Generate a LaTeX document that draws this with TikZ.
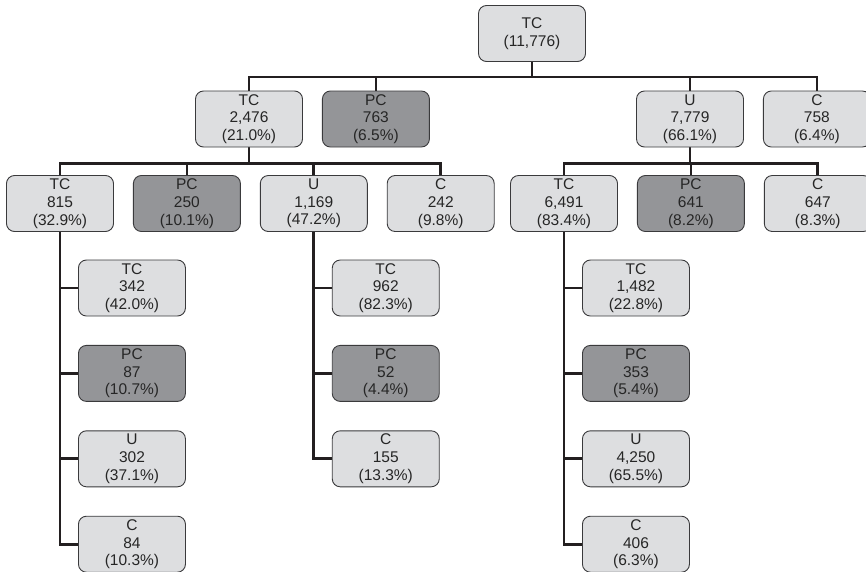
\documentclass[tikz,border=0pt]{standalone}
\usepackage{fontspec}
\setmainfont{Liberation Sans}
\usepackage{tikz}
\usetikzlibrary{positioning,backgrounds}
\definecolor{boxlight}{HTML}{DDDEE0}
\definecolor{boxdark}{HTML}{949598}
\definecolor{boxline}{HTML}{3A3A3C}
\definecolor{inkline}{HTML}{231F20}
\tikzset{
  cat/.style={draw=boxline,line width=0.9pt,rounded corners=8pt,minimum width=107pt,
    minimum height=56pt,inner sep=1pt,align=center,text=black!85,
    font=\fontsize{15.5}{17.7}\selectfont},
  light/.style={cat,fill=boxlight},
  dark/.style={cat,fill=boxdark},
  link/.style={draw=inkline,line width=2.8pt}
}
\begin{document}
\begin{tikzpicture}
      \useasboundingbox (0,0) rectangle (866pt,-571pt);
      % root
      \node[light] (root) at (532pt,-33.5pt) {TC\\(11,776)};
      % second row
      \node[light] (tc) at (249pt,-119pt) {TC\\2,476\\(21.0\%)};
      \node[dark,right=19pt of tc] (pc) {PC\\763\\(6.5\%)};
      \node[light] (u) at (690pt,-119pt) {U\\7,779\\(66.1\%)};
      \node[light,right=19pt of u] (c) {C\\758\\(6.4\%)};
      % third row
      \node[light] (tctc) at (60pt,-203.5pt) {TC\\815\\(32.9\%)};
      \node[dark,right=19pt of tctc] (tcpc) {PC\\250\\(10.1\%)};
      \node[light,right=19pt of tcpc] (tcu) {U\\1,169\\(47.2\%)};
      \node[light,right=19pt of tcu] (tcc) {C\\242\\(9.8\%)};
      \node[light] (utc) at (564pt,-203.5pt) {TC\\6,491\\(83.4\%)};
      \node[dark,right=19pt of utc] (upc) {PC\\641\\(8.2\%)};
      \node[light,right=19pt of upc] (uc) {C\\647\\(8.3\%)};
      % leaves
      \node[light,anchor=west] (tctc1) at ([xshift=18pt,yshift=-84.5pt]tctc.center) {TC\\342\\(42.0\%)};
      \node[dark,below=28.5pt of tctc1] (tctc2) {PC\\87\\(10.7\%)};
      \node[light,below=28.5pt of tctc2] (tctc3) {U\\302\\(37.1\%)};
      \node[light,below=28.5pt of tctc3] (tctc4) {C\\84\\(10.3\%)};
      \node[light,anchor=west] (tcu1) at ([xshift=18pt,yshift=-84.5pt]tcu.center) {TC\\962\\(82.3\%)};
      \node[dark,below=28.5pt of tcu1] (tcu2) {PC\\52\\(4.4\%)};
      \node[light,below=28.5pt of tcu2] (tcu3) {C\\155\\(13.3\%)};
      \node[light,anchor=west] (utc1) at ([xshift=18pt,yshift=-84.5pt]utc.center) {TC\\1,482\\(22.8\%)};
      \node[dark,below=28.5pt of utc1] (utc2) {PC\\353\\(5.4\%)};
      \node[light,below=28.5pt of utc2] (utc3) {U\\4,250\\(65.5\%)};
      \node[light,below=28.5pt of utc3] (utc4) {C\\406\\(6.3\%)};
      \begin{scope}[on background layer]
        \draw[link] (root.south) -- ++(0,-15pt) -| (tc.north);
        \draw[link] (root.south) -- ++(0,-15pt) -| (pc.north);
        \draw[link] (root.south) -- ++(0,-15pt) -| (u.north);
        \draw[link] (root.south) -- ++(0,-15pt) -| (c.north);
        \draw[link] (tc.south) -- ++(0,-16pt) -| (tctc.north);
        \draw[link] (tc.south) -- ++(0,-16pt) -| (tcpc.north);
        \draw[link] (tc.south) -- ++(0,-16pt) -| (tcu.north);
        \draw[link] (tc.south) -- ++(0,-16pt) -| (tcc.north);
        \draw[link] (u.south) -- ++(0,-16pt) -| (utc.north);
        \draw[link] (u.south) -- ++(0,-16pt) -| (upc.north);
        \draw[link] (u.south) -- ++(0,-16pt) -| (uc.north);
        \draw[link] (tctc.south) |- (tctc1.west);
        \draw[link] (tctc.south) |- (tctc2.west);
        \draw[link] (tctc.south) |- (tctc3.west);
        \draw[link] (tctc.south) |- (tctc4.west);
        \draw[link] (tcu.south) |- (tcu1.west);
        \draw[link] (tcu.south) |- (tcu2.west);
        \draw[link] (tcu.south) |- (tcu3.west);
        \draw[link] (utc.south) |- (utc1.west);
        \draw[link] (utc.south) |- (utc2.west);
        \draw[link] (utc.south) |- (utc3.west);
        \draw[link] (utc.south) |- (utc4.west);
      \end{scope}
    \end{tikzpicture}
\end{document}
